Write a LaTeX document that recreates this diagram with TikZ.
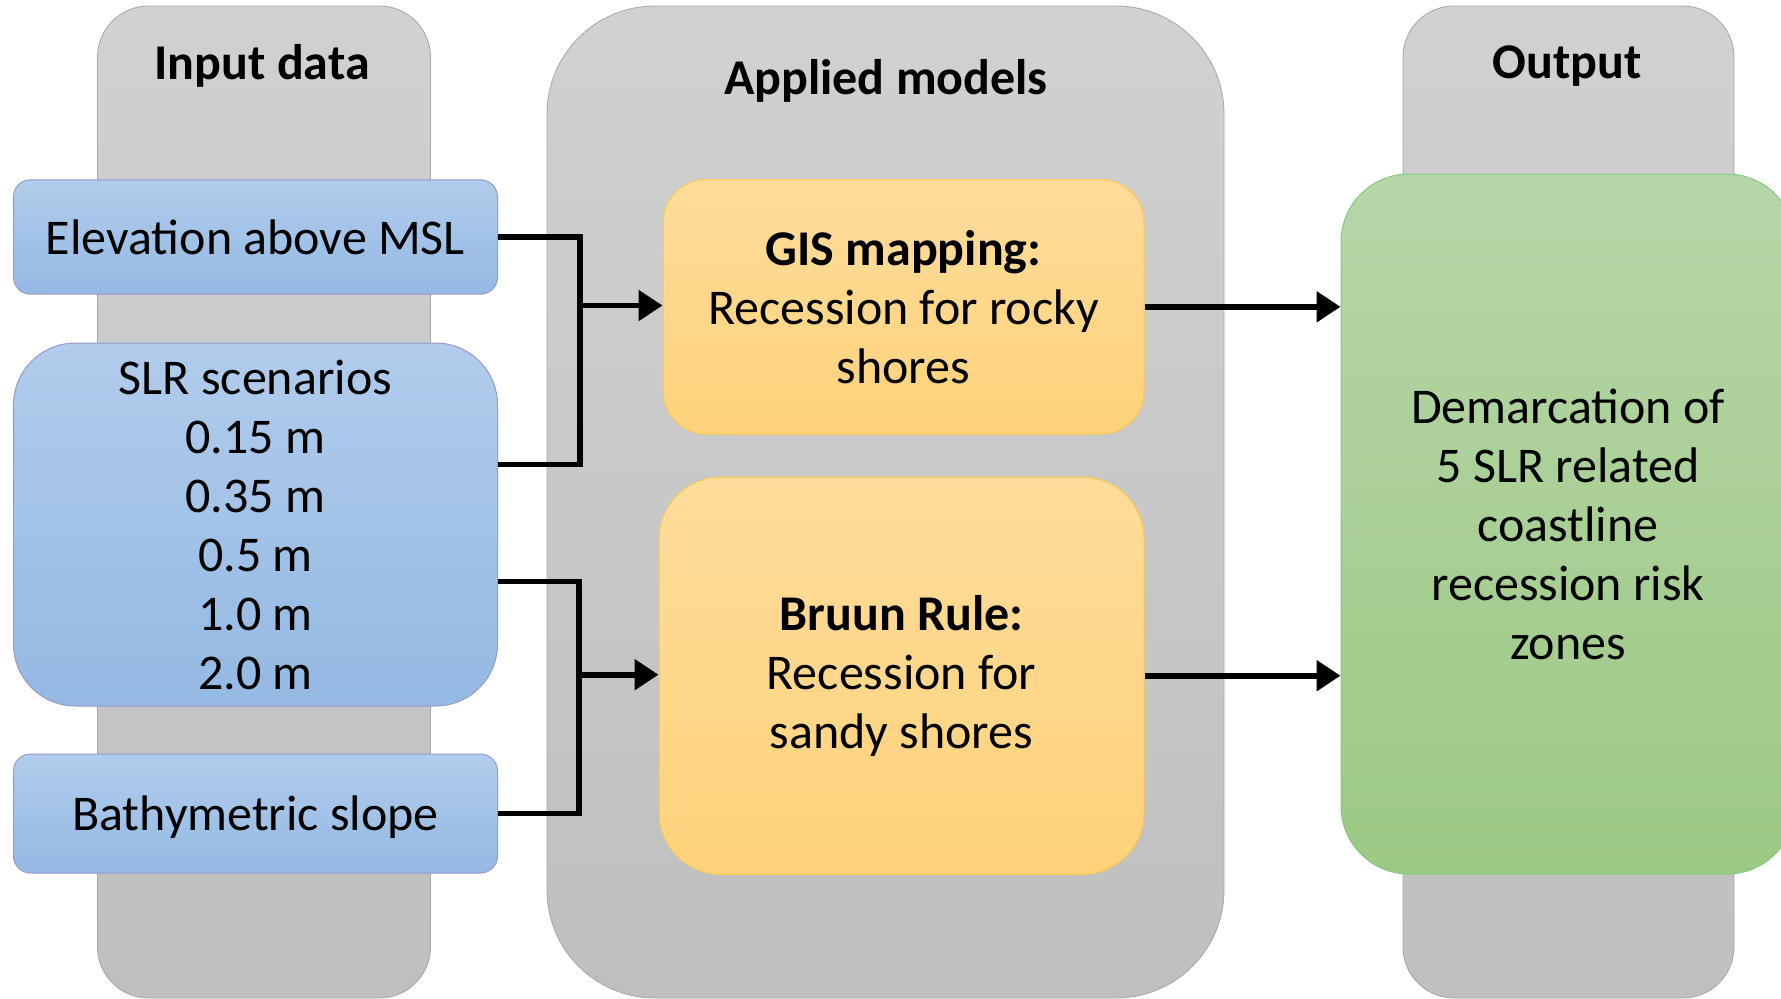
\documentclass[tikz,border=0pt]{standalone}
\usepackage{fontspec}
\setmainfont{Carlito}
\usetikzlibrary{arrows.meta}
\definecolor{coltop}{RGB}{209,209,209}
\definecolor{colbot}{RGB}{191,191,191}
\definecolor{bluetop}{RGB}{177,204,236}
\definecolor{bluebot}{RGB}{148,185,227}
\definecolor{yeltop}{RGB}{253,220,155}
\definecolor{yelbot}{RGB}{254,210,122}
\definecolor{grntop}{RGB}{182,214,168}
\definecolor{grnbot}{RGB}{156,201,132}
\tikzset{
  column/.style={draw=gray!70,line width=0.4pt,top color=coltop,bottom color=colbot,inner sep=0pt},
  inbox/.style={draw=blue!35!gray!60,line width=0.5pt,top color=bluetop,bottom color=bluebot,align=center,inner sep=0pt},
  modbox/.style={draw=orange!60!yellow!70,line width=0.5pt,top color=yeltop,bottom color=yelbot,align=center,inner sep=0pt},
  outbox/.style={draw=green!40!gray!70,line width=0.5pt,top color=grntop,bottom color=grnbot,align=center,inner sep=0pt},
  title/.style={font=\fontsize{25}{29.5}\selectfont\bfseries},
  wire/.style={line width=2.8pt,line join=miter},
  arr/.style={line width=2.8pt,-{Triangle[length=12pt,width=15pt]}}
}
\begin{document}
\begin{tikzpicture}[x=0.5pt,y=-0.5pt,font=\fontsize{25}{29.5}\selectfont]
\clip (0,0) rectangle (1781,998);
\useasboundingbox (0,0) rectangle (1781,998);
% background columns
\node[column,rounded corners=25.5pt,minimum width=166.5pt,minimum height=496pt] (incol) at (264,502) {};
\node[column,rounded corners=54pt,minimum width=338.5pt,minimum height=496pt] (appcol) at (885.5,502) {};
\node[column,rounded corners=25.5pt,minimum width=165.5pt,minimum height=496pt] (outcol) at (1568.5,502) {};
\node[title] (intitle) at (262,66) {Input data};
\node[title] (apptitle) at (886,81) {Applied models};
\node[title] (outtitle) at (1567,66) {Output};
% inputs
\node[inbox,rounded corners=8.5pt,minimum width=242pt,minimum height=57.2pt] (elev) at (255.5,237) {Elevation above MSL};
\node[inbox,rounded corners=31pt,minimum width=242pt,minimum height=181.5pt] (slr) at (255.5,524.5) {SLR scenarios\\0.15 m\\0.35 m\\0.5 m\\1.0 m\\2.0 m};
\node[inbox,rounded corners=8.5pt,minimum width=242pt,minimum height=59.5pt,text depth=0pt] (bathy) at (255.5,813.5) {Bathymetric slope};
% models
\node[modbox,rounded corners=21.5pt,minimum width=240.5pt,minimum height=127.2pt] (gis) at (903.5,306.8) {\textbf{GIS mapping:}\\Recession for rocky\\shores};
\node[modbox,rounded corners=31pt,minimum width=242.5pt,minimum height=198.7pt] (bruun) at (901.5,675.7) {\textbf{Bruun Rule:}\\Recession for\\sandy shores};
% output
\node[outbox,rounded corners=34pt,minimum width=227pt,minimum height=350pt] (out) at (1568,524) {Demarcation of\\5 SLR related\\coastline\\recession risk\\zones};
% connectors
\coordinate (j1) at (580,305.5);
\coordinate (s1) at (497.5,464.5);
\coordinate (j2) at (579,674.7);
\coordinate (s2) at (497.5,581.5);
\draw[wire] (elev.east) -| (j1) |- (s1);
\draw[arr] (j1) -- (j1 -| gis.west);
\draw[wire] (s2) -| (j2) |- (bathy.east);
\draw[arr] (j2) -- (j2 -| bruun.west);
\draw[arr] (gis.east) -- (gis.east -| out.west);
\draw[arr] (bruun.east) -- (bruun.east -| out.west);
\end{tikzpicture}
\end{document}
